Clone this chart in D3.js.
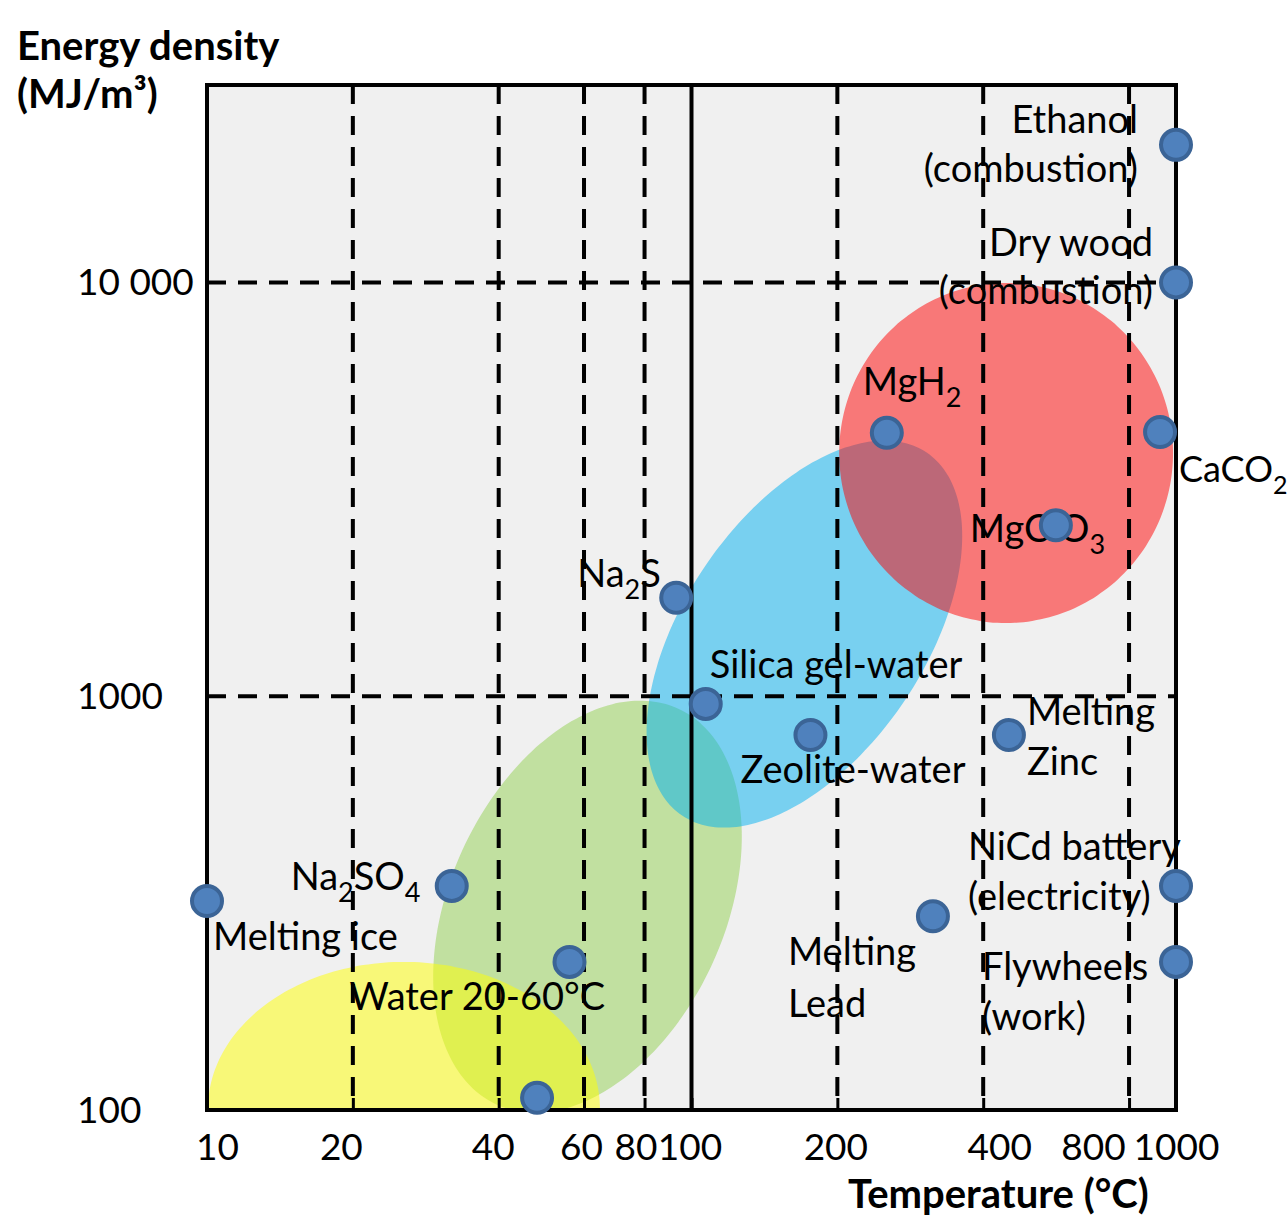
<!DOCTYPE html>
<html>
<head>
<meta charset="utf-8">
<script src="https://cdn.jsdelivr.net/npm/d3@7"></script>
<style>
  body { margin: 0; background: #fff; }
  text { font-family: Lato, "Open Sans", sans-serif; fill: #000; }
</style>
</head>
<body>
<div id="chart"></div>
<script>

// axis ticks
var tempTicks = [10, 20, 40, 60, 80, 100, 200, 400, 800, 1000];
var densityTicks = [100, 1000, 10000];
var densityTickLabels = ["100", "1000", "10 000"];

// storage media: temperature (°C) and energy density (MJ/m3)
var pointNames = ["Melting ice", "Na_2SO_4", "Water 20-60°C", "Water (low)", "Na_2S", "Silica gel-water",
                  "Zeolite-water", "MgH_2", "MgCO_3", "CaCO_2", "Ethanol (combustion)", "Dry wood (combustion)",
                  "Melting Zinc", "Melting Lead", "NiCd battery (electricity)", "Flywheels (work)"];
var pointTemps = [10, 32, 56, 48, 93, 107, 176, 253, 565, 927, 1000, 1000, 452, 315, 1000, 1000];
var pointDensities = [320, 348, 228, 107, 1730, 958, 806, 4330, 2590, 4350, 21500, 10000, 806, 294, 348, 228];

// label lines for each point
var labelLines = [
  ["Melting ice"], ["Na_2SO_4"], ["Water 20-60°C"], [], ["Na_2S"], ["Silica gel-water"],
  ["Zeolite-water"], ["MgH_2"], ["MgC O_3"], ["CaCO_2"], ["Ethanol", "(combustion)"], ["Dry wood", "(combustion)"],
  ["Melting", "Zinc"], ["Melting", "Lead"], ["NiCd battery", "(electricity)"], ["Flywheels", "(work)"]
];

// shaded regions: centre, rightmost edge point, point straight above centre
var regionColors = ["#92d050", "#ffff00", "#00b0f0", "#ff0000"];
var regionCentreTemp = [61, 25.5, 171, 446];
var regionCentreDensity = [310, 101, 1413, 3870];
var regionEdgeTemp = [127, 64.7, 362, 986];
var regionEdgeDensity = [458, 101, 2439, 3870];
var regionTopDensity = [911, 228, 3575, 9970];

// ---------------------------------------------------------------

var width = 1287, height = 1216;
var plot = {left: 207, top: 85, right: 1176, bottom: 1110};

// horizontal nudge of the temperature tick labels (px)
var tickLabelShift = [10, -12, -6, -3, -9, -2, -2, 16, -36, 0];

// label placement relative to the point (px)
var labelLayout = [
  {anchor: "start", dx: 6,    dy: [49]},
  {anchor: "start", dx: -161, dy: [4]},
  {anchor: "start", dx: -220, dy: [48]},
  {anchor: "start", dx: 0,    dy: []},
  {anchor: "start", dx: -99,  dy: [-11]},
  {anchor: "start", dx: 4,    dy: [-26]},
  {anchor: "start", dx: -70,  dy: [48]},
  {anchor: "start", dx: -24,  dy: [-38]},
  {anchor: "start", dx: -86,  dy: [17]},
  {anchor: "start", dx: 19,   dy: [50], size: 36},
  {anchor: "end",   dx: -38,  dy: [-12, 37]},
  {anchor: "end",   dx: -23,  dy: [-26, 22]},
  {anchor: "start", dx: 18,   dy: [-10, 40]},
  {anchor: "start", dx: -145, dy: [49, 101]},
  {anchor: "start", dx: -208, dy: [-26, 24]},
  {anchor: "start", dx: -194, dy: [18, 68]}
];

var x = d3.scaleLog().domain([10, 1000]).range([plot.left, plot.right]);
var y = d3.scaleLog().domain([100, 30000]).range([plot.bottom, plot.top]);

var svg = d3.select("#chart").append("svg")
    .attr("width", width)
    .attr("height", height);

svg.append("clipPath").attr("id", "plotclip")
  .append("rect")
    .attr("x", plot.left).attr("y", plot.top)
    .attr("width", plot.right - plot.left)
    .attr("height", plot.bottom - plot.top);

// background
svg.append("rect")
    .attr("x", plot.left).attr("y", plot.top)
    .attr("width", plot.right - plot.left)
    .attr("height", plot.bottom - plot.top)
    .attr("fill", "#f0f0f0");

// regions
var regions = regionColors.map(function(c, i) {
  var cx = x(regionCentreTemp[i]), cy = y(regionCentreDensity[i]);
  var ax = x(regionEdgeTemp[i]) - cx, ay = y(regionEdgeDensity[i]) - cy;
  var by = y(regionTopDensity[i]) - cy;
  var pts = d3.range(0, 120).map(function(k) {
    var t = k / 120 * 2 * Math.PI;
    return [cx + ax * Math.cos(t), cy + ay * Math.cos(t) + by * Math.sin(t)];
  });
  return {color: c, pts: pts};
});

svg.append("g")
    .attr("clip-path", "url(#plotclip)")
  .selectAll("path")
  .data(regions)
  .enter().append("path")
    .attr("d", function(d) { return d3.line().curve(d3.curveCardinalClosed)(d.pts); })
    .attr("fill", function(d) { return d.color; })
    .attr("fill-opacity", 0.5);

// labels
function richText(sel, str, size) {
  var parts = str.split(/(_\d)/);
  var shifted = false;
  parts.forEach(function(p) {
    if (p === "") return;
    if (p.charAt(0) === "_") {
      sel.append("tspan").attr("font-size", Math.round(size * 0.7)).attr("dy", 12).text(p.slice(1));
      shifted = true;
    } else {
      sel.append("tspan").attr("dy", shifted ? -12 : 0).text(p);
      shifted = false;
    }
  });
}

var labelG = svg.append("g");
pointNames.forEach(function(name, i) {
  var lay = labelLayout[i];
  var size = lay.size || 38;
  labelLines[i].forEach(function(line, j) {
    var t = labelG.append("text")
        .attr("x", x(pointTemps[i]) + lay.dx)
        .attr("y", y(pointDensities[i]) + lay.dy[j])
        .attr("font-size", size)
        .attr("text-anchor", lay.anchor);
    richText(t, line, size);
  });
});

// grid
var grid = svg.append("g");
grid.selectAll("line.v")
  .data(tempTicks.slice(1, -1))
  .enter().append("line")
    .attr("x1", function(d) { return x(d); })
    .attr("x2", function(d) { return x(d); })
    .attr("y1", plot.top)
    .attr("y2", plot.bottom)
    .attr("stroke", "#000")
    .attr("stroke-width", 4)
    .attr("stroke-dasharray", function(d) { return d === 100 ? null : "19,12"; });

grid.selectAll("line.h")
  .data(densityTicks.slice(1))
  .enter().append("line")
    .attr("x1", plot.left)
    .attr("x2", plot.right)
    .attr("y1", function(d) { return y(d); })
    .attr("y2", function(d) { return y(d); })
    .attr("stroke", "#000")
    .attr("stroke-width", 4)
    .attr("stroke-dasharray", "19,12");

// bottom axis
var xAxis = d3.axisBottom(x)
    .tickValues(tempTicks)
    .tickFormat(d3.format("d"))
    .tickSizeInner(-12)
    .tickSizeOuter(0)
    .tickPadding(24);

var xg = svg.append("g")
    .attr("transform", "translate(0," + plot.bottom + ")")
    .call(xAxis);
xg.select(".domain").remove();
xg.selectAll(".tick line").attr("stroke", "#000").attr("stroke-width", 3);
xg.selectAll(".tick text")
    .attr("font-family", "Lato, sans-serif")
    .attr("font-size", 37)
    .attr("fill", "#000")
    .attr("dx", function(d, i) { return tickLabelShift[i]; });

// y labels
svg.append("g").selectAll("text")
  .data(densityTicks)
  .enter().append("text")
    .attr("x", 77)
    .attr("y", function(d) { return y(d); })
    .attr("dy", "0.35em")
    .attr("font-size", 37)
    .text(function(d, i) { return densityTickLabels[i]; });

// frame
svg.append("rect")
    .attr("x", plot.left).attr("y", plot.top)
    .attr("width", plot.right - plot.left)
    .attr("height", plot.bottom - plot.top)
    .attr("fill", "none")
    .attr("stroke", "#000")
    .attr("stroke-width", 4);

// points
svg.append("g").selectAll("circle")
  .data(pointTemps)
  .enter().append("circle")
    .attr("cx", function(d) { return x(d); })
    .attr("cy", function(d, i) { return y(pointDensities[i]); })
    .attr("r", 15)
    .attr("fill", "#4f81bd")
    .attr("stroke", "#3b6496")
    .attr("stroke-width", 4);

// axis titles
svg.append("text")
    .attr("x", 17).attr("y", 60)
    .attr("font-size", 40).attr("font-weight", "bold")
    .text("Energy density");
svg.append("text")
    .attr("x", 17).attr("y", 108)
    .attr("font-size", 40).attr("font-weight", "bold")
    .text("(MJ/m³)");
svg.append("text")
    .attr("x", 848).attr("y", 1208)
    .attr("font-size", 40).attr("font-weight", "bold")
    .text("Temperature (°C)");

</script>
</body>
</html>
